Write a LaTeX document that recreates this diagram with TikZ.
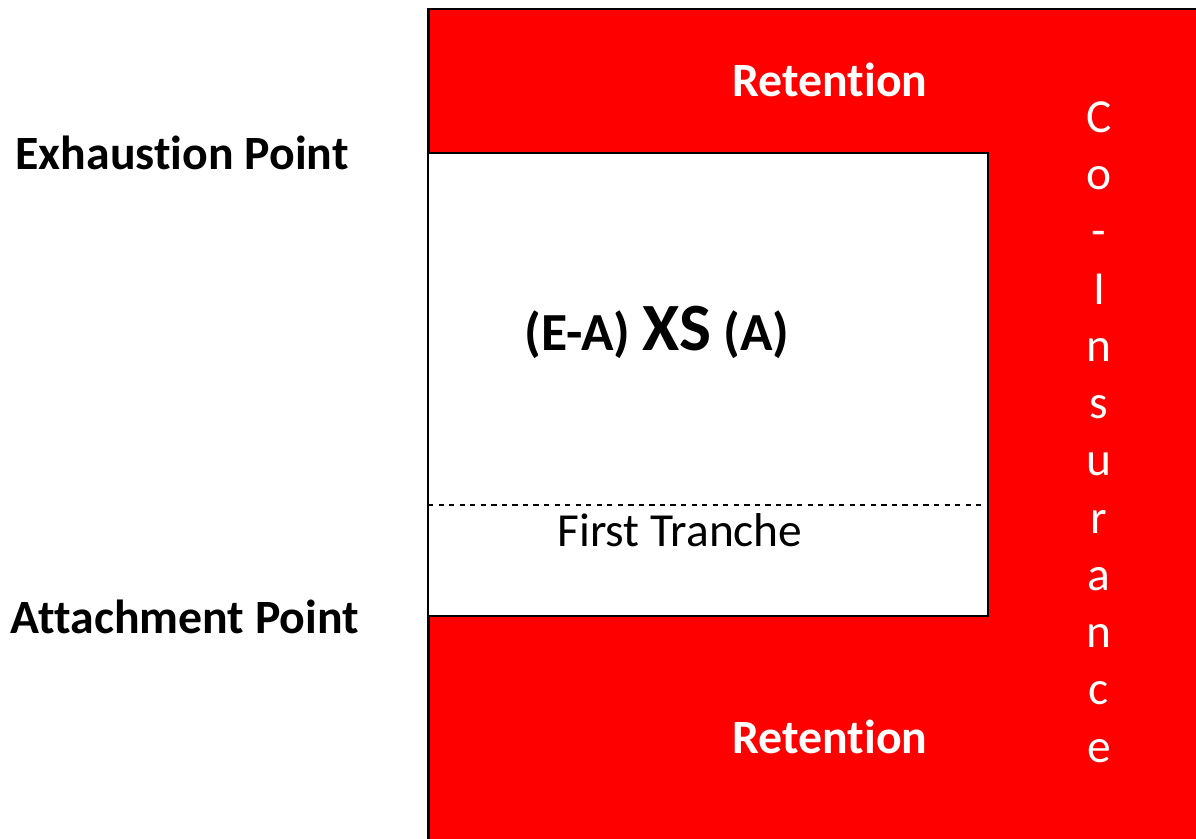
\documentclass[tikz,border=0pt]{standalone}
\usepackage{fontspec}
\setmainfont[Ligatures=NoCommon]{Carlito}
\tikzset{
	lbl/.style={font=\fontsize{27.2}{32}\selectfont\bfseries},
	inred/.style={lbl, text=white},
}
\begin{document}
\begin{tikzpicture}[x=0.02cm, y=-0.02cm]
	\useasboundingbox (0,0) rectangle (1196,838);
	\clip (0,0) rectangle (1196,838);
	\coordinate (o) at (428,9);
	\coordinate (p) at (1210,850);
	\coordinate (a) at (428,153);
	\coordinate (b) at (988,616);
	\fill[red] (o) rectangle (p);
	\draw[line width=1.7pt] (p |- o) -- (o) -- (o |- p);
	\filldraw[fill=white, line width=1.2pt] (a) rectangle (b);
	\draw[dashed, line width=0.8pt] (428,505) -- (985,505);
	\node[inred] (rtop) at (830,80) {Retention};
	\node[inred] (rbot) at (830,737) {Retention};
	\node[lbl] (exh) at (182,153) {Exhaustion Point};
	\node[lbl] (att) at (185,617) {Attachment Point};
	\node[font=\fontsize{30.5}{36}\selectfont\bfseries] (layer) at (657,332) {(E-A) {\fontsize{38.5}{44}\selectfont XS} (A)};
	\node[font=\fontsize{27}{32}\selectfont] (first) at (680,530) {First Tranche};
	\node[font=\fontsize{27}{32.6}\selectfont, text=white, align=center] (coins) at (1099,432)
		{C\\o\\-\\I\\n\\s\\u\\r\\a\\n\\c\\e};
\end{tikzpicture}
\end{document}
